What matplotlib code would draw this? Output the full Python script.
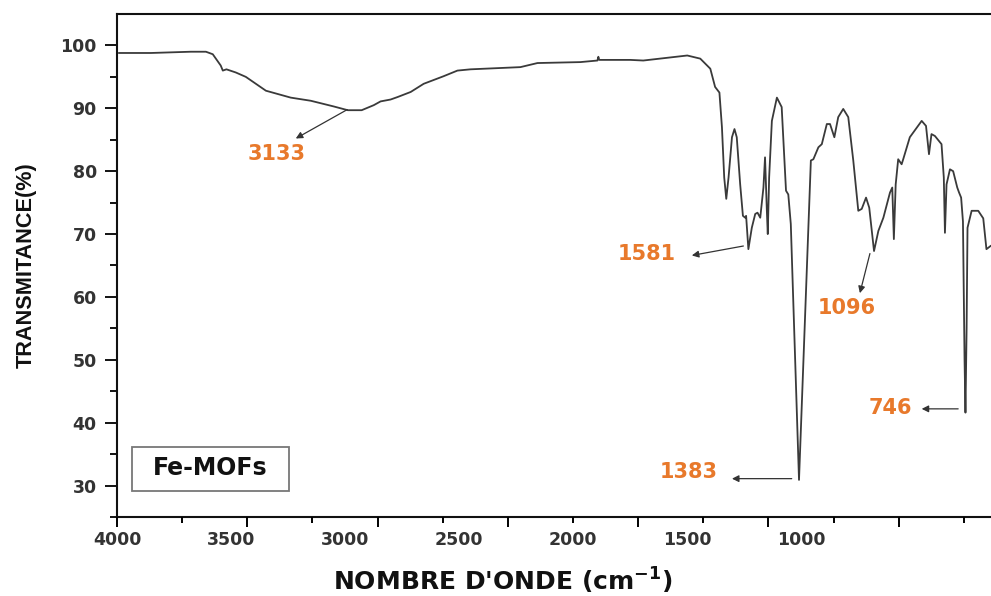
import matplotlib.pyplot as plt
from matplotlib.patches import Rectangle

# spectre FTIR Fe-MOFs
wavenumber = [3991, 3851, 3676, 3610, 3580, 3545, 3536, 3520, 3479, 3435, 3347, 3238, 3150, 3050,
              2988, 2927, 2874, 2844, 2800, 2769, 2712, 2655, 2568, 2507, 2450, 2231, 2156, 1968,
              1893, 1889, 1885, 1823, 1749, 1692, 1499, 1442, 1398, 1377, 1358, 1347, 1337, 1328,
              1318, 1303, 1292, 1282, 1267, 1255, 1245, 1241, 1231, 1216, 1201, 1191, 1179, 1165,
              1158, 1150, 1146, 1140, 1128, 1106, 1085, 1066, 1056, 1045, 1009, 957, 946, 924,
              909, 887, 873, 854, 837, 815, 793, 771, 749, 734, 715, 701, 680, 661, 639, 610,
              600, 593, 585, 574, 559, 552, 523, 471, 452, 439, 428, 413, 384, 374, 369, 362,
              347, 333, 315, 307, 298, 290, 283, 279, 274, 270, 252, 223, 201, 187, 169]
transmittance = [98.8, 98.8, 99.0, 99.0, 98.6, 96.8, 96.0, 96.2, 95.7, 95.0, 92.8, 91.7, 91.2, 90.3,
                 89.7, 89.7, 90.5, 91.1, 91.4, 91.8, 92.6, 93.9, 95.1, 96.0, 96.2, 96.55, 97.2, 97.35,
                 97.6, 98.2, 97.7, 97.7, 97.7, 97.6, 98.4, 97.9, 96.3, 93.4, 92.5, 87.0, 79.0, 75.6,
                 79.0, 85.4, 86.7, 85.4, 77.9, 72.9, 72.6, 72.9, 67.6, 71.0, 73.2, 73.4, 72.6, 77.4,
                 82.2, 73.7, 70.0, 79.0, 88.0, 91.7, 90.2, 76.9, 76.3, 71.6, 30.9, 81.7, 81.9, 83.8,
                 84.3, 87.5, 87.5, 85.4, 88.6, 89.9, 88.6, 81.7, 73.7, 74.0, 75.8, 74.2, 67.3, 70.5, 72.6, 76.6,
                 77.4, 69.2, 77.9, 81.9, 81.1, 81.9, 85.4, 88.0, 87.2, 82.7, 85.9, 85.6, 84.3, 79.0, 70.2, 77.9,
                 80.3, 80.0, 77.4, 76.6, 75.8, 72.0, 50.0, 41.6, 55.0, 71.0, 73.7, 73.7, 72.5, 67.6, 68.1]

xtick_labels = [4000, 3500, 3000, 2500, 2000, 1500, 1000]
peak_labels = ['3133', '1581', '1096', '1383', '746']

orange = '#E8792B'
fig = plt.figure(figsize=(9.91, 5.96), dpi=100)
ax = fig.add_axes([117/991, 79/596, 874/991, 503/596])
ax.plot(wavenumber, transmittance, color='#3a3a3a', lw=1.3)
ax.set_xlim(4000, 167)
ax.set_ylim(25, 105)

for s in ['left', 'bottom', 'top']:
    ax.spines[s].set_linewidth(1.5)
    ax.spines[s].set_color('#111111')
ax.spines['right'].set_visible(False)

ax.set_yticks(range(30, 101, 10))
ax.set_yticks(range(25, 105, 5), minor=True)
ax.tick_params(axis='y', which='major', length=9, width=1.3, pad=5.5, labelsize=12.5, labelcolor='#333333')
ax.tick_params(axis='y', which='minor', length=5, width=1.3)
for t in ax.get_yticklabels():
    t.set_fontweight('bold')

# les etiquettes de l'axe x ne tombent pas sur les graduations
ax.set_xticks(xtick_labels)
ax.tick_params(axis='x', which='major', length=0, pad=10, labelsize=12.5, labelcolor='#333333')
for t in ax.get_xticklabels():
    t.set_fontweight('bold')

ax2 = ax.twiny()
ax2.set_xlim(ax.get_xlim())
ax2.xaxis.set_ticks_position('bottom')
step = 2000 / 7
ax2.set_xticks([4000 - 2 * k * step for k in range(7)])
ax2.set_xticks([4000 - (2 * k + 1) * step for k in range(7)], minor=True)
ax2.tick_params(axis='x', which='major', length=7, width=1.4, labelbottom=False, labeltop=False)
ax2.tick_params(axis='x', which='minor', length=4.5, width=1.4, labelbottom=False, labeltop=False)
for s in ax2.spines.values():
    s.set_visible(False)

ax.set_xlabel(r"NOMBRE D'ONDE (cm$^{\mathbf{-1}}$)", fontsize=18, fontweight='bold', color='#111111')
ax.xaxis.label.set_va('center')
ax.xaxis.set_label_coords(0.4416, -0.128)
ax.set_ylabel('TRANSMITANCE(%)', fontsize=15.6, fontweight='bold', family='Liberation Sans', color='#111111')
ax.yaxis.set_label_coords(-0.092, 0.501)

# fleches et valeurs des pics
arrows = [((2990, 89.8), (3216, 85.2), (3299, 82.8)),
          ((1253, 68.1), (1479, 66.6), (1676, 66.9)),
          ((698, 66.9), (742, 60.6), (800, 58.2)),
          ((1041, 31.1), (1303, 31.1), (1494, 32.2)),
          ((311, 42.2), (471, 42.2), (610, 42.3))]
for lab, (tail, head, txt) in zip(peak_labels, arrows):
    ax.annotate('', xy=head, xytext=tail,
                arrowprops=dict(arrowstyle='-|>', color='#333333', lw=0.9, mutation_scale=10,
                                shrinkA=0, shrinkB=0))
    ax.text(txt[0], txt[1], lab, color=orange, fontsize=15, fontweight='bold',
            ha='center', va='center')

ax.add_patch(Rectangle((0.0175, 0.0523), 0.1795, 0.0863, transform=ax.transAxes,
                       fill=False, edgecolor='#777777', lw=1.3))
ax.text(0.1064, 0.0968, 'Fe-MOFs', transform=ax.transAxes, fontsize=17, fontweight='bold',
        ha='center', va='center', color='#111111')

plt.savefig('out.png', dpi=100)
